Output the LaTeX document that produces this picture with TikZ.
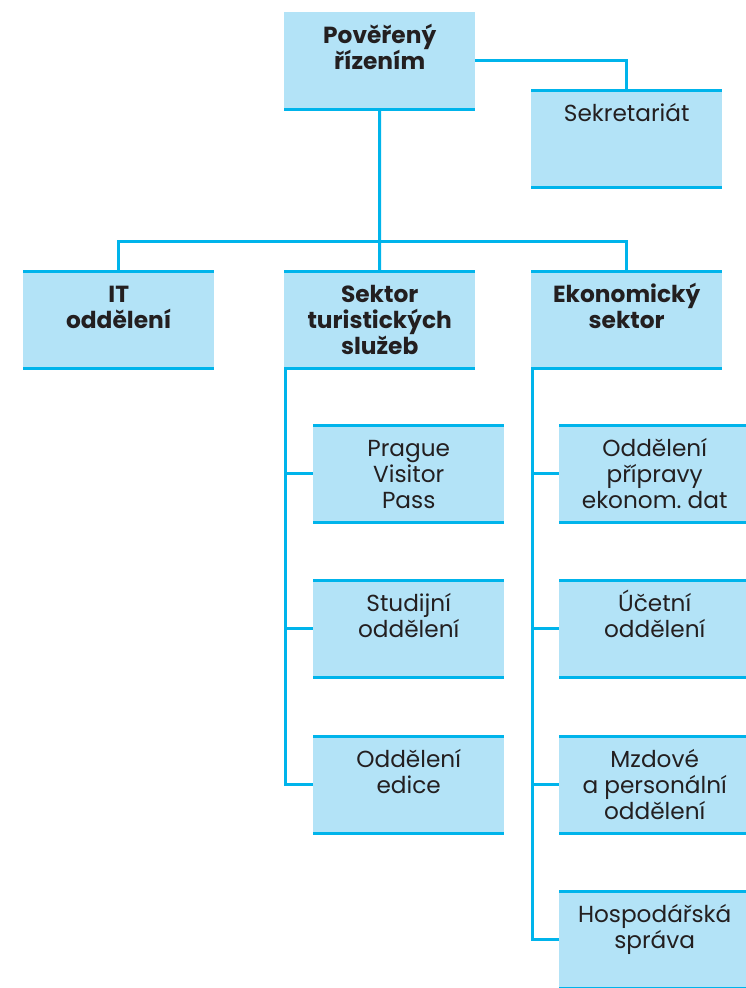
\documentclass[tikz,border=0pt]{standalone}
\usepackage{fontspec}
\setmainfont{Poppins}
\definecolor{boxfill}{HTML}{B3E3F7}
\definecolor{linecol}{HTML}{00B4EB}
\definecolor{textcol}{HTML}{231F20}
\newcommand{\bt}[1]{\parbox[c][97pt][t]{185pt}{\centering\rule{0pt}{31.5pt}#1}}
\newcommand{\bb}[1]{\parbox[c][97pt][t]{185pt}{\centering\fontsize{23.3}{26}\selectfont\bfseries\rule{0pt}{31.5pt}#1}}
\tikzset{
  box/.style={fill=boxfill, inner sep=0pt, minimum width=191pt, anchor=north west,
    text=textcol, font=\fontsize{23.2}{26}\selectfont},
  conn/.style={draw=linecol, line width=3pt},
}
\begin{document}
\begin{tikzpicture}[x=1pt,y=-1pt]
\useasboundingbox (0,0) rectangle (746,988);
% boxes
\node[box] (P) at (284,12) {\bb{Pověřený\\řízením}};
\node[box] (S) at (531,90) {\bt{Sekretariát}};
\node[box] (IT) at (23,271) {\bb{IT\\oddělení}};
\node[box] (SK) at (284,271) {\bb{Sektor\\turistických\\služeb}};
\node[box] (EK) at (531,271) {\bb{Ekonomický\\sektor}};
\node[box] (L1) at (313,425) {\bt{Prague\\Visitor\\Pass}};
\node[box] (L2) at (313,580) {\bt{Studijní\\oddělení}};
\node[box] (L3) at (313,736) {\bt{Oddělení\\edice}};
\node[box] (R1) at (559,425) {\bt{Oddělení\\přípravy\\ekonom.\ dat}};
\node[box] (R2) at (559,580) {\bt{Účetní\\oddělení}};
\node[box] (R3) at (559,736) {\bt{Mzdové\\a personální\\oddělení}};
\node[box] (R4) at (559,891) {\bt{Hospodářská\\správa}};
% top / bottom rules of boxes
\foreach \n in {S,IT,SK,EK,L1,L2,L3,R1,R2,R3,R4}
  \draw[conn] (\n.north west) -- (\n.north east);
\foreach \n in {P,S,IT,SK,EK,L1,L2,L3,R1,R2,R3,R4}
  \draw[conn] (\n.south west) -- (\n.south east);
% connectors
\coordinate (hub) at (379.5,241);
\draw[conn] (P.east) -| (S.north);
\draw[conn] (P.south) -- (hub);
\draw[conn] (hub) -| (IT.north);
\draw[conn] (hub) -| (EK.north);
\draw[conn] (hub) -- (SK.north);
\coordinate (sl) at ([xshift=1.5pt]SK.south west);
\draw[conn] (sl) |- (L3.west);
\draw[conn] (sl |- L1.west) -- (L1.west);
\draw[conn] (sl |- L2.west) -- (L2.west);
\coordinate (sr) at ([xshift=1.5pt]EK.south west);
\draw[conn] (sr) |- (R4.west);
\draw[conn] (sr |- R1.west) -- (R1.west);
\draw[conn] (sr |- R2.west) -- (R2.west);
\draw[conn] (sr |- R3.west) -- (R3.west);
\end{tikzpicture}
\end{document}
